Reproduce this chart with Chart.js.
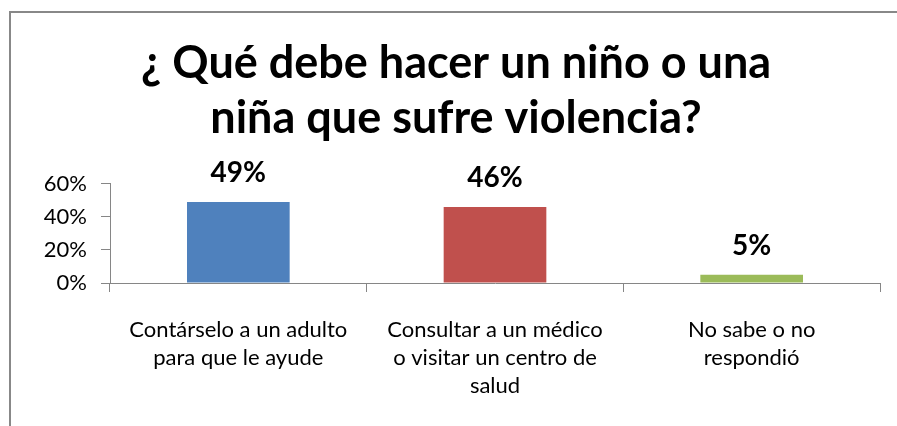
<!DOCTYPE html>
<html>
<head>
<meta charset="utf-8">
<script src="https://cdn.jsdelivr.net/npm/chart.js@4.4.1/dist/chart.umd.min.js"></script>
<style>
  html, body { margin: 0; padding: 0; background: #fff; overflow: hidden; }
  #wrap { position: relative; width: 897px; height: 426px; overflow: hidden; }
  #frame { position: absolute; left: 9px; top: 11px; width: 2000px; height: 2000px; border-left: 2px solid #888; border-top: 2px solid #888; box-sizing: border-box; }
  #c { position: absolute; left: 0; top: 0; }
</style>
</head>
<body>
<div id="wrap">
  <div id="frame"></div>
  <canvas id="c" width="897" height="426"></canvas>
</div>
<script>
const titleLines = ["¿ Qué debe hacer un niño o una", "niña que sufre violencia?"];
const categories = [
  ["Contárselo a un adulto", "para que le ayude"],
  ["Consultar a un médico", "o visitar un centro de", "salud"],
  ["No sabe o no", "respondió"]
];
const values = [0.49, 0.46, 0.05];
const barColors = ["#4F81BD", "#C0504D", "#9BBB59"];
const yTicks = [0, 0.2, 0.4, 0.6];

const FONT = "Lato, 'Open Sans', sans-serif";

/* ── value labels above the bars ── */
const barLabels = {
  id: "barLabels",
  afterDatasetsDraw(chart) {
    const ctx = chart.ctx;
    const meta = chart.getDatasetMeta(0);
    ctx.save();
    ctx.font = "bold 28px " + FONT;
    ctx.fillStyle = "#000";
    ctx.textAlign = "center";
    ctx.textBaseline = "alphabetic";
    meta.data.forEach((bar, i) => {
      ctx.fillText(Math.round(values[i] * 100) + "%", bar.x, bar.y - 20);
    });
    ctx.restore();
  }
};

new Chart(document.getElementById("c"), {
  type: "bar",
  data: {
    labels: categories,
    datasets: [{
      data: values,
      backgroundColor: barColors,
      barPercentage: 0.4,
      categoryPercentage: 1
    }]
  },
  options: {
    responsive: false,
    animation: false,
    layout: { padding: { left: 32, right: 17, top: 28, bottom: 0 } },
    plugins: {
      legend: { display: false },
      tooltip: { enabled: false },
      title: {
        display: true,
        text: titleLines,
        color: "#000",
        font: { family: FONT, size: 45, weight: "bold", lineHeight: 1.244 },
        padding: { top: 7, bottom: 37 }
      }
    },
    scales: {
      x: {
        afterFit(axis) { axis.height = 143; },
        grid: { drawOnChartArea: false, color: "#868686", tickLength: 9 },
        border: { color: "#868686" },
        ticks: { color: "#000", font: { family: FONT, size: 22, lineHeight: 1.27 }, padding: 24, maxRotation: 0, autoSkip: false }
      },
      y: {
        min: 0,
        max: 0.6,
        afterBuildTicks(axis) { axis.ticks = yTicks.map(v => ({ value: v })); },
        afterFit(axis) { axis.width = 78; },
        grid: { drawOnChartArea: false, color: "#868686", tickLength: 9 },
        border: { color: "#868686" },
        ticks: {
          color: "#000",
          font: { family: FONT, size: 22 },
          padding: 14,
          callback: v => Math.round(v * 100) + "%"
        }
      }
    }
  },
  plugins: [barLabels]
});
</script>
</body>
</html>
